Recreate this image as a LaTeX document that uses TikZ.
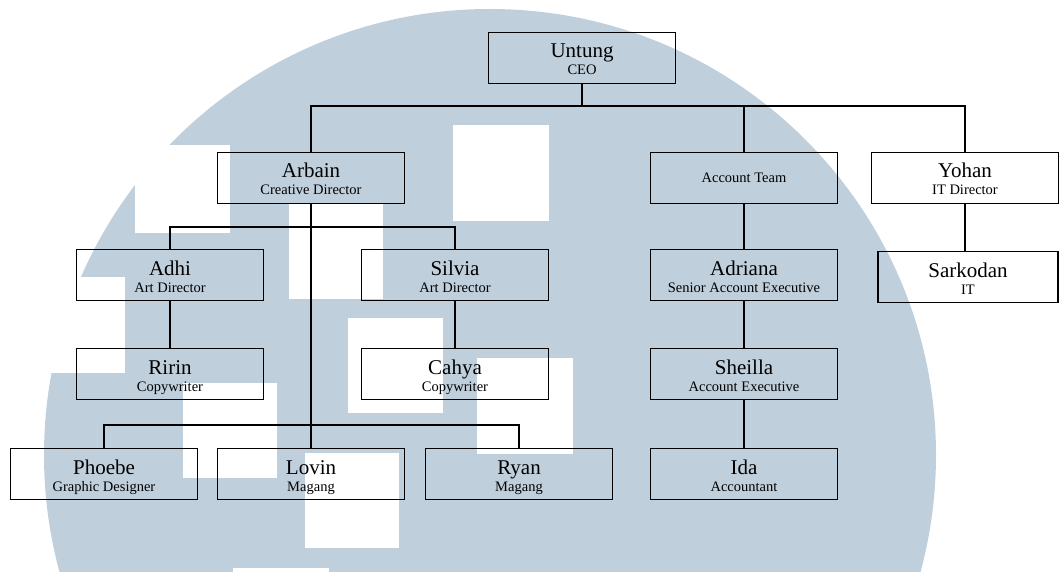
\documentclass[tikz,border=0pt]{standalone}
\usepackage{fontspec}
\setmainfont{Liberation Serif}
\usetikzlibrary{calc}
\definecolor{wmblue}{RGB}{192,207,220}
\newcommand{\rolename}[1]{{\fontsize{14.5}{17}\selectfont #1}}
\newcommand{\person}[2]{\rule{0pt}{21pt}#1\\\rolename{#2\rule[-4pt]{0pt}{4pt}}}

\begin{document}
\begin{tikzpicture}[
    x=1pt, y=-1pt,
    box/.style={draw, line width=1.8pt, minimum width=187pt, minimum height=51pt,
        inner sep=0pt, align=center, font=\fontsize{21}{17}\selectfont},
    link/.style={line width=1.8pt},
    watermark/.style={fill=wmblue},
    every node/.style={color=black}
    ]
    \useasboundingbox (0,0) rectangle (1060,572);
    \clip (0,0) rectangle (1060,572);

    % watermark
    \fill[watermark] (490,455) circle[radius=446pt];
    \foreach \a/\b/\c/\d in {135/145/230/233, 453/125/549/221, 289/203/383/299,
        348/318/443/413, 477/358/573/454, 305/453/399/548, 233/568/329/663,
        183/383/277/478, 20/277/125/373}
        \fill[white] (\a,\b) rectangle (\c,\d);

    % top
    \node[box] (untung) at (582,58) {\person{Untung}{CEO}};
    % directors
    \node[box] (arbain) at (311,178) {\person{Arbain}{Creative Director}};
    \node[box] (team) at (744,178) {\rolename{Account Team}};
    \node[box] (yohan) at (965,178) {\person{Yohan}{IT Director}};
    % second row
    \node[box] (adhi) at (170,275) {\person{Adhi}{Art Director}};
    \node[box] (silvia) at (455,275) {\person{Silvia}{Art Director}};
    \node[box] (adriana) at (744,275) {\person{Adriana}{Senior Account Executive}};
    \node[box, minimum width=180pt] (sarkodan) at (968,277) {\person{Sarkodan}{IT}};
    % third row
    \node[box] (ririn) at (170,374) {\person{Ririn}{Copywriter}};
    \node[box] (cahya) at (455,374) {\person{Cahya}{Copywriter}};
    \node[box] (sheilla) at (744,374) {\person{Sheilla}{Account Executive}};
    % bottom row
    \node[box] (phoebe) at (104,474) {\person{Phoebe}{Graphic Designer}};
    \node[box] (lovin) at (311,474) {\person{Lovin}{Magang}};
    \node[box] (ryan) at (519,474) {\person{Ryan}{Magang}};
    \node[box] (ida) at (744,474) {\person{Ida}{Accountant}};

    % bus lines
    \coordinate (topbus) at (582,106);
    \coordinate (artbus) at (311,227);
    \coordinate (designbus) at (311,425);
    \draw[link] (untung.south) -- (topbus);
    \draw[link] (arbain.north) |- (topbus) -| (yohan.north);
    \draw[link] (team.north) -- (team.north |- topbus);
    \draw[link] (arbain.south) -- (lovin.north);
    \draw[link] (adhi.north) |- (artbus) -| (silvia.north);
    \draw[link] (phoebe.north) |- (designbus) -| (ryan.north);
    % straight lines
    \draw[link] (adhi.south) -- (ririn.north);
    \draw[link] (silvia.south) -- (cahya.north);
    \draw[link] (team.south) -- (adriana.north);
    \draw[link] (adriana.south) -- (sheilla.north);
    \draw[link] (sheilla.south) -- (ida.north);
    \draw[link] (yohan.south) -- (yohan.south |- sarkodan.north);
\end{tikzpicture}
\end{document}
